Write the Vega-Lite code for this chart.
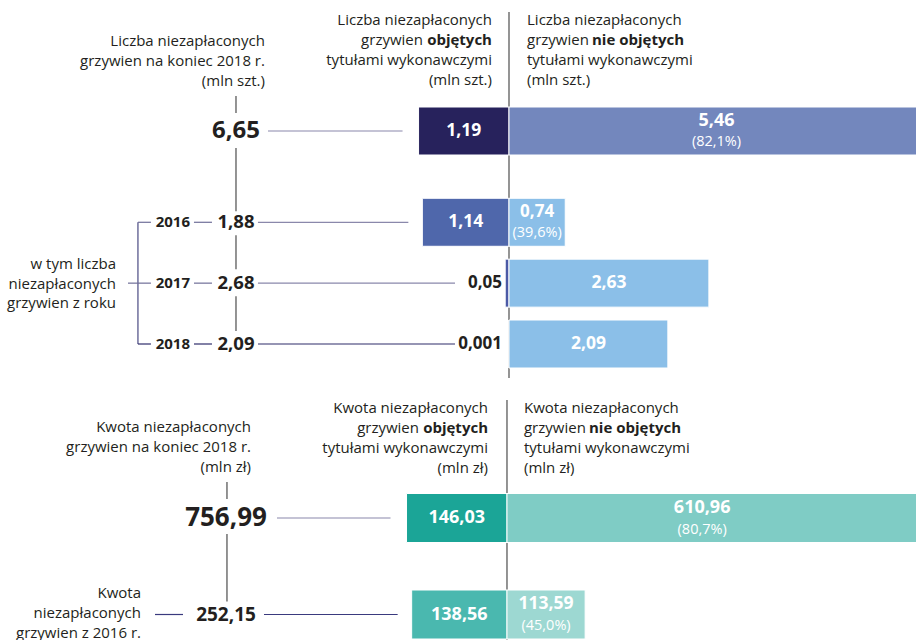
{
"$schema": "https://vega.github.io/schema/vega-lite/v6.json",
"padding": 0,
"spacing": 0,
"bounds": "flush",
"background": "white",
"config": {"view": {"stroke": null}, "locale": {"number": {"decimal": ",", "thousands": " ", "grouping": [3], "currency": ["", " zł"]}}},
"datasets": {
 "liczba": [
  {"row": "total", "total": 6.65, "obj": 1.19, "nie": 5.46, "pct": "(82,1%)"},
  {"row": "2016", "total": 1.88, "obj": 1.14, "nie": 0.74, "pct": "(39,6%)"},
  {"row": "2017", "total": 2.68, "obj": 0.05, "nie": 2.63},
  {"row": "2018", "total": 2.09, "obj": 0.001, "nie": 2.09}
 ],
 "kwota": [
  {"row": "total", "total": 756.99, "obj": 146.03, "nie": 610.96, "pct": "(80,7%)"},
  {"row": "2016", "total": 252.15, "obj": 138.56, "nie": 113.59, "pct": "(45,0%)"}
 ]
},
"vconcat": [
 {
  "width": 916, "height": 385,
  "data": {"name": "liczba"},
  "resolve": {"scale": {"x": "independent"}},
  "layer": [
   {"data": {"values": [{}]}, "mark": {"type": "rule", "color": "#4d4d4d", "strokeWidth": 1.2, "yOffset": -119, "y2Offset": 34},
    "encoding": {"x": {"datum": 0, "type": "quantitative", "scale": {"domain": [-6.697, 5.355], "nice": false, "zero": false}, "axis": null},
     "y": {"datum": "total", "type": "nominal", "scale": {"type": "point", "domain": ["total","_a","_b","2016","_c","2017","_d","2018"], "range": [131, 344], "padding": 0}, "axis": null},
     "y2": {"datum": "2018"}}},
   {"data": {"values": [{}]}, "mark": {"type": "text", "align": "right", "baseline": "middle", "font": "Open Sans", "fontSize": 15, "lineHeight": 20, "color": "#231f20", "dy": -90},
    "encoding": {"x": {"datum": -3.211, "type": "quantitative", "scale": {"domain": [-6.697, 5.355], "nice": false, "zero": false}, "axis": null},
     "y": {"datum": "total", "type": "nominal", "scale": {"type": "point", "domain": ["total","_a","_b","2016","_c","2017","_d","2018"], "range": [131, 344], "padding": 0}, "axis": null},
     "text": {"value": ["Liczba niezapłaconych", "grzywien na koniec 2018 r.", "(mln szt.)"]}}},
   {"data": {"values": [{}]}, "mark": {"type": "text", "align": "right", "baseline": "middle", "font": "Open Sans", "fontSize": 15, "color": "#231f20", "dy": -111},
    "encoding": {"x": {"datum": -0.224, "type": "quantitative", "scale": {"domain": [-6.697, 5.355], "nice": false, "zero": false}, "axis": null},
     "y": {"datum": "total", "type": "nominal", "scale": {"type": "point", "domain": ["total","_a","_b","2016","_c","2017","_d","2018"], "range": [131, 344], "padding": 0}, "axis": null},
     "text": {"value": "Liczba niezapłaconych"}}},
   {"data": {"values": [{}]}, "mark": {"type": "text", "align": "right", "baseline": "middle", "font": "Open Sans", "fontSize": 15, "lineHeight": 20, "color": "#231f20", "dy": -71},
    "encoding": {"x": {"datum": -0.224, "type": "quantitative", "scale": {"domain": [-6.697, 5.355], "nice": false, "zero": false}, "axis": null},
     "y": {"datum": "total", "type": "nominal", "scale": {"type": "point", "domain": ["total","_a","_b","2016","_c","2017","_d","2018"], "range": [131, 344], "padding": 0}, "axis": null},
     "text": {"value": ["tytułami wykonawczymi", "(mln szt.)"]}}},
   {"data": {"values": [{}]}, "mark": {"type": "text", "align": "right", "baseline": "middle", "font": "Open Sans", "fontSize": 15, "color": "#231f20", "dy": -91, "dx": -69},
    "encoding": {"x": {"datum": -0.224, "type": "quantitative", "scale": {"domain": [-6.697, 5.355], "nice": false, "zero": false}, "axis": null},
     "y": {"datum": "total", "type": "nominal", "scale": {"type": "point", "domain": ["total","_a","_b","2016","_c","2017","_d","2018"], "range": [131, 344], "padding": 0}, "axis": null},
     "text": {"value": "grzywien"}}},
   {"data": {"values": [{}]}, "mark": {"type": "text", "align": "right", "baseline": "middle", "font": "Open Sans", "fontSize": 15, "fontWeight": "bold", "color": "#231f20", "dy": -91},
    "encoding": {"x": {"datum": -0.224, "type": "quantitative", "scale": {"domain": [-6.697, 5.355], "nice": false, "zero": false}, "axis": null},
     "y": {"datum": "total", "type": "nominal", "scale": {"type": "point", "domain": ["total","_a","_b","2016","_c","2017","_d","2018"], "range": [131, 344], "padding": 0}, "axis": null},
     "text": {"value": "objętych"}}},
   {"data": {"values": [{}]}, "mark": {"type": "text", "align": "left", "baseline": "middle", "font": "Open Sans", "fontSize": 15, "color": "#231f20", "dy": -111},
    "encoding": {"x": {"datum": 0.237, "type": "quantitative", "scale": {"domain": [-6.697, 5.355], "nice": false, "zero": false}, "axis": null},
     "y": {"datum": "total", "type": "nominal", "scale": {"type": "point", "domain": ["total","_a","_b","2016","_c","2017","_d","2018"], "range": [131, 344], "padding": 0}, "axis": null},
     "text": {"value": "Liczba niezapłaconych"}}},
   {"data": {"values": [{}]}, "mark": {"type": "text", "align": "left", "baseline": "middle", "font": "Open Sans", "fontSize": 15, "lineHeight": 20, "color": "#231f20", "dy": -71},
    "encoding": {"x": {"datum": 0.237, "type": "quantitative", "scale": {"domain": [-6.697, 5.355], "nice": false, "zero": false}, "axis": null},
     "y": {"datum": "total", "type": "nominal", "scale": {"type": "point", "domain": ["total","_a","_b","2016","_c","2017","_d","2018"], "range": [131, 344], "padding": 0}, "axis": null},
     "text": {"value": ["tytułami wykonawczymi", "(mln szt.)"]}}},
   {"data": {"values": [{}]}, "mark": {"type": "text", "align": "left", "baseline": "middle", "font": "Open Sans", "fontSize": 15, "color": "#231f20", "dy": -91},
    "encoding": {"x": {"datum": 0.237, "type": "quantitative", "scale": {"domain": [-6.697, 5.355], "nice": false, "zero": false}, "axis": null},
     "y": {"datum": "total", "type": "nominal", "scale": {"type": "point", "domain": ["total","_a","_b","2016","_c","2017","_d","2018"], "range": [131, 344], "padding": 0}, "axis": null},
     "text": {"value": "grzywien"}}},
   {"data": {"values": [{}]}, "mark": {"type": "text", "align": "left", "baseline": "middle", "font": "Open Sans", "fontSize": 15, "fontWeight": "bold", "color": "#231f20", "dy": -91, "dx": 65},
    "encoding": {"x": {"datum": 0.237, "type": "quantitative", "scale": {"domain": [-6.697, 5.355], "nice": false, "zero": false}, "axis": null},
     "y": {"datum": "total", "type": "nominal", "scale": {"type": "point", "domain": ["total","_a","_b","2016","_c","2017","_d","2018"], "range": [131, 344], "padding": 0}, "axis": null},
     "text": {"value": "nie objętych"}}},
   {"data": {"values": [{}]}, "mark": {"type": "rule", "color": "#4d4d4d", "strokeWidth": 1.2, "yOffset": -35, "y2Offset": -18},
    "encoding": {"x": {"datum": -3.592, "type": "quantitative", "scale": {"domain": [-6.697, 5.355], "nice": false, "zero": false}, "axis": null},
     "y": {"datum": "total", "type": "nominal", "scale": {"type": "point", "domain": ["total","_a","_b","2016","_c","2017","_d","2018"], "range": [131, 344], "padding": 0}, "axis": null},
     "y2": {"datum": "total"}}},
   {"data": {"values": [{}]}, "mark": {"type": "rule", "color": "#4d4d4d", "strokeWidth": 1.2, "yOffset": 17, "y2Offset": -11},
    "encoding": {"x": {"datum": -3.592, "type": "quantitative", "scale": {"domain": [-6.697, 5.355], "nice": false, "zero": false}, "axis": null},
     "y": {"datum": "total", "type": "nominal", "scale": {"type": "point", "domain": ["total","_a","_b","2016","_c","2017","_d","2018"], "range": [131, 344], "padding": 0}, "axis": null},
     "y2": {"datum": "2016"}}},
   {"data": {"values": [{}]}, "mark": {"type": "rule", "color": "#4d4d4d", "strokeWidth": 1.2, "yOffset": 13, "y2Offset": -14},
    "encoding": {"x": {"datum": -3.592, "type": "quantitative", "scale": {"domain": [-6.697, 5.355], "nice": false, "zero": false}, "axis": null},
     "y": {"datum": "2016", "type": "nominal", "scale": {"type": "point", "domain": ["total","_a","_b","2016","_c","2017","_d","2018"], "range": [131, 344], "padding": 0}, "axis": null},
     "y2": {"datum": "2017"}}},
   {"data": {"values": [{}]}, "mark": {"type": "rule", "color": "#4d4d4d", "strokeWidth": 1.2, "yOffset": 13, "y2Offset": -13},
    "encoding": {"x": {"datum": -3.592, "type": "quantitative", "scale": {"domain": [-6.697, 5.355], "nice": false, "zero": false}, "axis": null},
     "y": {"datum": "2017", "type": "nominal", "scale": {"type": "point", "domain": ["total","_a","_b","2016","_c","2017","_d","2018"], "range": [131, 344], "padding": 0}, "axis": null},
     "y2": {"datum": "2018"}}},
   {"data": {"values": [{}]}, "mark": {"type": "rule", "color": "#4a4a82", "strokeWidth": 1.2},
    "encoding": {"x": {"datum": -4.882, "type": "quantitative", "scale": {"domain": [-6.697, 5.355], "nice": false, "zero": false}, "axis": null},
     "y": {"datum": "2016", "type": "nominal", "scale": {"type": "point", "domain": ["total","_a","_b","2016","_c","2017","_d","2018"], "range": [131, 344], "padding": 0}, "axis": null},
     "y2": {"datum": "2018"}}},
   {"data": {"values": [{}]}, "mark": {"type": "rule", "color": "#6f6e98", "strokeWidth": 1.2},
    "encoding": {"x": {"datum": -5.013, "type": "quantitative", "scale": {"domain": [-6.697, 5.355], "nice": false, "zero": false}, "axis": null},
     "x2": {"datum": -4.882},
     "y": {"datum": "2017", "type": "nominal", "scale": {"type": "point", "domain": ["total","_a","_b","2016","_c","2017","_d","2018"], "range": [131, 344], "padding": 0}, "axis": null}}},
   {"transform": [{"filter": "datum.row !== 'total'"}], "mark": {"type": "rule", "strokeWidth": 1.2},
    "encoding": {"x": {"datum": -4.882, "type": "quantitative", "scale": {"domain": [-6.697, 5.355], "nice": false, "zero": false}, "axis": null},
     "x2": {"datum": -4.711},
     "y": {"field": "row", "type": "nominal", "scale": {"type": "point", "domain": ["total","_a","_b","2016","_c","2017","_d","2018"], "range": [131, 344], "padding": 0}, "axis": null},
     "color": {"condition": {"test": "datum.row === '2018'", "value": "#2e2d6b"}, "value": "#6f6e98"}}},
   {"transform": [{"filter": "datum.row !== 'total'"}], "mark": {"type": "rule", "strokeWidth": 1.2},
    "encoding": {"x": {"datum": -4.145, "type": "quantitative", "scale": {"domain": [-6.697, 5.355], "nice": false, "zero": false}, "axis": null},
     "x2": {"datum": -3.908},
     "y": {"field": "row", "type": "nominal", "scale": {"type": "point", "domain": ["total","_a","_b","2016","_c","2017","_d","2018"], "range": [131, 344], "padding": 0}, "axis": null},
     "color": {"condition": {"test": "datum.row === '2018'", "value": "#2e2d6b"}, "value": "#6f6e98"}}},
   {"data": {"values": [{}]}, "mark": {"type": "text", "align": "right", "baseline": "middle", "font": "Open Sans", "fontSize": 15, "lineHeight": 19.5, "color": "#231f20", "dy": -19},
    "encoding": {"x": {"datum": -5.171, "type": "quantitative", "scale": {"domain": [-6.697, 5.355], "nice": false, "zero": false}, "axis": null},
     "y": {"datum": "2017", "type": "nominal", "scale": {"type": "point", "domain": ["total","_a","_b","2016","_c","2017","_d","2018"], "range": [131, 344], "padding": 0}, "axis": null},
     "text": {"value": ["w tym liczba", "niezapłaconych", "grzywien z roku"]}}},
   {"transform": [{"filter": "datum.row !== 'total'"}], "mark": {"type": "text", "align": "right", "baseline": "middle", "font": "Open Sans", "fontSize": 15, "fontWeight": "bold", "color": "#231f20"},
    "encoding": {"x": {"datum": -4.197, "type": "quantitative", "scale": {"domain": [-6.697, 5.355], "nice": false, "zero": false}, "axis": null},
     "y": {"field": "row", "type": "nominal", "scale": {"type": "point", "domain": ["total","_a","_b","2016","_c","2017","_d","2018"], "range": [131, 344], "padding": 0}, "axis": null},
     "text": {"field": "row", "type": "nominal"}}},
   {"mark": {"type": "text", "align": "center", "baseline": "middle", "font": "Open Sans", "fontWeight": "bold", "color": "#231f20"},
    "encoding": {"x": {"datum": -3.592, "type": "quantitative", "scale": {"domain": [-6.697, 5.355], "nice": false, "zero": false}, "axis": null},
     "y": {"field": "row", "type": "nominal", "scale": {"type": "point", "domain": ["total","_a","_b","2016","_c","2017","_d","2018"], "range": [131, 344], "padding": 0}, "axis": null},
     "text": {"field": "total", "type": "quantitative", "format": "~g"},
     "size": {"condition": {"test": "datum.row === 'total'", "value": 24}, "value": 18.5}}},
   {"transform": [{"filter": "datum.row === 'total'"}], "mark": {"type": "rule", "color": "#8a88ab", "strokeWidth": 1.2, "xOffset": -16},
    "encoding": {"x": {"field": "obj", "type": "quantitative", "scale": {"domain": [-5.355, 6.697], "reverse": true, "nice": false, "zero": false}, "axis": null},
     "x2": {"datum": 3.171},
     "y": {"field": "row", "type": "nominal", "scale": {"type": "point", "domain": ["total","_a","_b","2016","_c","2017","_d","2018"], "range": [131, 344], "padding": 0}, "axis": null}}},
   {"transform": [{"filter": "datum.row === '2016'"}], "mark": {"type": "rule", "color": "#8a88ab", "strokeWidth": 1.2, "xOffset": -14},
    "encoding": {"x": {"field": "obj", "type": "quantitative", "scale": {"domain": [-5.355, 6.697], "reverse": true, "nice": false, "zero": false}, "axis": null},
     "x2": {"datum": 3.303},
     "y": {"field": "row", "type": "nominal", "scale": {"type": "point", "domain": ["total","_a","_b","2016","_c","2017","_d","2018"], "range": [131, 344], "padding": 0}, "axis": null}}},
   {"transform": [{"filter": "datum.row === '2017' || datum.row === '2018'"}], "mark": {"type": "rule", "strokeWidth": 1.2, "xOffset": -54},
    "encoding": {"x": {"datum": 0, "type": "quantitative", "scale": {"domain": [-5.355, 6.697], "reverse": true, "nice": false, "zero": false}, "axis": null},
     "x2": {"datum": 3.303},
     "y": {"field": "row", "type": "nominal", "scale": {"type": "point", "domain": ["total","_a","_b","2016","_c","2017","_d","2018"], "range": [131, 344], "padding": 0}, "axis": null},
     "color": {"condition": {"test": "datum.row === '2018'", "value": "#2e2d6b"}, "value": "#8a88ab"}}},
   {"mark": {"type": "bar", "size": 48, "stroke": "white", "strokeWidth": 1},
    "encoding": {"x": {"field": "obj", "type": "quantitative", "scale": {"domain": [-5.355, 6.697], "reverse": true, "nice": false, "zero": false}, "axis": null},
     "x2": {"datum": 0},
     "y": {"field": "row", "type": "nominal", "scale": {"type": "point", "domain": ["total","_a","_b","2016","_c","2017","_d","2018"], "range": [131, 344], "padding": 0}, "axis": null},
     "color": {"condition": [{"test": "datum.row === 'total'", "value": "#27225c"}, {"test": "datum.row === '2016'", "value": "#4f67ab"}], "value": "#4b5aa6"}}},
   {"mark": {"type": "bar", "size": 48, "stroke": "white", "strokeWidth": 1, "clip": true},
    "encoding": {"x": {"field": "nie", "type": "quantitative", "scale": {"domain": [-6.697, 5.355], "nice": false, "zero": false}, "axis": null},
     "x2": {"datum": 0},
     "y": {"field": "row", "type": "nominal", "scale": {"type": "point", "domain": ["total","_a","_b","2016","_c","2017","_d","2018"], "range": [131, 344], "padding": 0}, "axis": null},
     "color": {"condition": {"test": "datum.row === 'total'", "value": "#7387bd"}, "value": "#8bbfe8"}}},
   {"transform": [{"filter": "datum.row === 'total' || datum.row === '2016'"}], "mark": {"type": "text", "align": "center", "baseline": "middle", "font": "Open Sans", "fontSize": 17.5, "fontWeight": "bold", "color": "white"},
    "encoding": {"x": {"field": "obj", "type": "quantitative", "scale": {"domain": [-10.71, 13.394], "reverse": true, "nice": false, "zero": false}, "axis": null},
     "y": {"field": "row", "type": "nominal", "scale": {"type": "point", "domain": ["total","_a","_b","2016","_c","2017","_d","2018"], "range": [131, 344], "padding": 0}, "axis": null},
     "text": {"field": "obj", "type": "quantitative", "format": "~g"}}},
   {"transform": [{"filter": "datum.row === '2017' || datum.row === '2018'"}], "mark": {"type": "text", "align": "right", "baseline": "middle", "font": "Open Sans", "fontSize": 17, "fontWeight": "bold", "color": "#231f20", "dx": -7},
    "encoding": {"x": {"datum": 0, "type": "quantitative", "scale": {"domain": [-6.697, 5.355], "nice": false, "zero": false}, "axis": null},
     "y": {"field": "row", "type": "nominal", "scale": {"type": "point", "domain": ["total","_a","_b","2016","_c","2017","_d","2018"], "range": [131, 344], "padding": 0}, "axis": null},
     "text": {"field": "obj", "type": "quantitative", "format": "~g"}}},
   {"transform": [{"filter": "datum.pct != null"}], "mark": {"type": "text", "align": "center", "baseline": "middle", "font": "Open Sans", "fontWeight": "bold", "color": "white", "dy": -10},
    "encoding": {"x": {"field": "nie", "type": "quantitative", "scale": {"domain": [-13.394, 10.71], "nice": false, "zero": false}, "axis": null},
     "y": {"field": "row", "type": "nominal", "scale": {"type": "point", "domain": ["total","_a","_b","2016","_c","2017","_d","2018"], "range": [131, 344], "padding": 0}, "axis": null},
     "text": {"field": "nie", "type": "quantitative", "format": "~g"},
     "size": {"condition": {"test": "datum.row === 'total'", "value": 18}, "value": 17}}},
   {"transform": [{"filter": "datum.pct != null"}], "mark": {"type": "text", "align": "center", "baseline": "middle", "font": "Open Sans", "fontSize": 14.5, "color": "white", "dy": 11},
    "encoding": {"x": {"field": "nie", "type": "quantitative", "scale": {"domain": [-13.394, 10.71], "nice": false, "zero": false}, "axis": null},
     "y": {"field": "row", "type": "nominal", "scale": {"type": "point", "domain": ["total","_a","_b","2016","_c","2017","_d","2018"], "range": [131, 344], "padding": 0}, "axis": null},
     "text": {"field": "pct", "type": "nominal"}}},
   {"transform": [{"filter": "datum.pct == null"}], "mark": {"type": "text", "align": "center", "baseline": "middle", "font": "Open Sans", "fontSize": 17.5, "fontWeight": "bold", "color": "white"},
    "encoding": {"x": {"field": "nie", "type": "quantitative", "scale": {"domain": [-13.394, 10.71], "nice": false, "zero": false}, "axis": null},
     "y": {"field": "row", "type": "nominal", "scale": {"type": "point", "domain": ["total","_a","_b","2016","_c","2017","_d","2018"], "range": [131, 344], "padding": 0}, "axis": null},
     "text": {"field": "nie", "type": "quantitative", "format": "~g"}}}
  ]
 },
 {
  "width": 916, "height": 255,
  "data": {"name": "kwota"},
  "resolve": {"scale": {"x": "independent"}},
  "layer": [
   {"data": {"values": [{}]}, "mark": {"type": "rule", "color": "#4d4d4d", "strokeWidth": 1.2, "yOffset": -118, "y2Offset": 30},
    "encoding": {"x": {"datum": 0, "type": "quantitative", "scale": {"domain": [-736.9, 594.5], "nice": false, "zero": false}, "axis": null},
     "y": {"datum": "total", "type": "nominal", "scale": {"type": "point", "domain": ["total", "2016"], "range": [133, 229.5], "padding": 0}, "axis": null},
     "y2": {"datum": "2016"}}},
   {"data": {"values": [{}]}, "mark": {"type": "text", "align": "right", "baseline": "middle", "font": "Open Sans", "fontSize": 15, "lineHeight": 20, "color": "#231f20", "dy": -91},
    "encoding": {"x": {"datum": -372.1, "type": "quantitative", "scale": {"domain": [-736.9, 594.5], "nice": false, "zero": false}, "axis": null},
     "y": {"datum": "total", "type": "nominal", "scale": {"type": "point", "domain": ["total", "2016"], "range": [133, 229.5], "padding": 0}, "axis": null},
     "text": {"value": ["Kwota niezapłaconych", "grzywien na koniec 2018 r.", "(mln zł)"]}}},
   {"data": {"values": [{}]}, "mark": {"type": "text", "align": "right", "baseline": "middle", "font": "Open Sans", "fontSize": 15, "color": "#231f20", "dy": -110},
    "encoding": {"x": {"datum": -27.6, "type": "quantitative", "scale": {"domain": [-736.9, 594.5], "nice": false, "zero": false}, "axis": null},
     "y": {"datum": "total", "type": "nominal", "scale": {"type": "point", "domain": ["total", "2016"], "range": [133, 229.5], "padding": 0}, "axis": null},
     "text": {"value": "Kwota niezapłaconych"}}},
   {"data": {"values": [{}]}, "mark": {"type": "text", "align": "right", "baseline": "middle", "font": "Open Sans", "fontSize": 15, "lineHeight": 20, "color": "#231f20", "dy": -70},
    "encoding": {"x": {"datum": -27.6, "type": "quantitative", "scale": {"domain": [-736.9, 594.5], "nice": false, "zero": false}, "axis": null},
     "y": {"datum": "total", "type": "nominal", "scale": {"type": "point", "domain": ["total", "2016"], "range": [133, 229.5], "padding": 0}, "axis": null},
     "text": {"value": ["tytułami wykonawczymi", "(mln zł)"]}}},
   {"data": {"values": [{}]}, "mark": {"type": "text", "align": "right", "baseline": "middle", "font": "Open Sans", "fontSize": 15, "color": "#231f20", "dy": -90, "dx": -69},
    "encoding": {"x": {"datum": -27.6, "type": "quantitative", "scale": {"domain": [-736.9, 594.5], "nice": false, "zero": false}, "axis": null},
     "y": {"datum": "total", "type": "nominal", "scale": {"type": "point", "domain": ["total", "2016"], "range": [133, 229.5], "padding": 0}, "axis": null},
     "text": {"value": "grzywien"}}},
   {"data": {"values": [{}]}, "mark": {"type": "text", "align": "right", "baseline": "middle", "font": "Open Sans", "fontSize": 15, "fontWeight": "bold", "color": "#231f20", "dy": -90},
    "encoding": {"x": {"datum": -27.6, "type": "quantitative", "scale": {"domain": [-736.9, 594.5], "nice": false, "zero": false}, "axis": null},
     "y": {"datum": "total", "type": "nominal", "scale": {"type": "point", "domain": ["total", "2016"], "range": [133, 229.5], "padding": 0}, "axis": null},
     "text": {"value": "objętych"}}},
   {"data": {"values": [{}]}, "mark": {"type": "text", "align": "left", "baseline": "middle", "font": "Open Sans", "fontSize": 15, "color": "#231f20", "dy": -110},
    "encoding": {"x": {"datum": 24.7, "type": "quantitative", "scale": {"domain": [-736.9, 594.5], "nice": false, "zero": false}, "axis": null},
     "y": {"datum": "total", "type": "nominal", "scale": {"type": "point", "domain": ["total", "2016"], "range": [133, 229.5], "padding": 0}, "axis": null},
     "text": {"value": "Kwota niezapłaconych"}}},
   {"data": {"values": [{}]}, "mark": {"type": "text", "align": "left", "baseline": "middle", "font": "Open Sans", "fontSize": 15, "lineHeight": 20, "color": "#231f20", "dy": -70},
    "encoding": {"x": {"datum": 24.7, "type": "quantitative", "scale": {"domain": [-736.9, 594.5], "nice": false, "zero": false}, "axis": null},
     "y": {"datum": "total", "type": "nominal", "scale": {"type": "point", "domain": ["total", "2016"], "range": [133, 229.5], "padding": 0}, "axis": null},
     "text": {"value": ["tytułami wykonawczymi", "(mln zł)"]}}},
   {"data": {"values": [{}]}, "mark": {"type": "text", "align": "left", "baseline": "middle", "font": "Open Sans", "fontSize": 15, "color": "#231f20", "dy": -90},
    "encoding": {"x": {"datum": 24.7, "type": "quantitative", "scale": {"domain": [-736.9, 594.5], "nice": false, "zero": false}, "axis": null},
     "y": {"datum": "total", "type": "nominal", "scale": {"type": "point", "domain": ["total", "2016"], "range": [133, 229.5], "padding": 0}, "axis": null},
     "text": {"value": "grzywien"}}},
   {"data": {"values": [{}]}, "mark": {"type": "text", "align": "left", "baseline": "middle", "font": "Open Sans", "fontSize": 15, "fontWeight": "bold", "color": "#231f20", "dy": -90, "dx": 65},
    "encoding": {"x": {"datum": 24.7, "type": "quantitative", "scale": {"domain": [-736.9, 594.5], "nice": false, "zero": false}, "axis": null},
     "y": {"datum": "total", "type": "nominal", "scale": {"type": "point", "domain": ["total", "2016"], "range": [133, 229.5], "padding": 0}, "axis": null},
     "text": {"value": "nie objętych"}}},
   {"data": {"values": [{}]}, "mark": {"type": "rule", "color": "#4d4d4d", "strokeWidth": 1.2, "yOffset": -36, "y2Offset": -19},
    "encoding": {"x": {"datum": -407, "type": "quantitative", "scale": {"domain": [-736.9, 594.5], "nice": false, "zero": false}, "axis": null},
     "y": {"datum": "total", "type": "nominal", "scale": {"type": "point", "domain": ["total", "2016"], "range": [133, 229.5], "padding": 0}, "axis": null},
     "y2": {"datum": "total"}}},
   {"data": {"values": [{}]}, "mark": {"type": "rule", "color": "#4d4d4d", "strokeWidth": 1.2, "yOffset": 16, "y2Offset": -13},
    "encoding": {"x": {"datum": -407, "type": "quantitative", "scale": {"domain": [-736.9, 594.5], "nice": false, "zero": false}, "axis": null},
     "y": {"datum": "total", "type": "nominal", "scale": {"type": "point", "domain": ["total", "2016"], "range": [133, 229.5], "padding": 0}, "axis": null},
     "y2": {"datum": "2016"}}},
   {"data": {"values": [{}]}, "mark": {"type": "rule", "color": "#3a3a7e", "strokeWidth": 1.2},
    "encoding": {"x": {"datum": -511.6, "type": "quantitative", "scale": {"domain": [-736.9, 594.5], "nice": false, "zero": false}, "axis": null},
     "x2": {"datum": -470.9},
     "y": {"datum": "2016", "type": "nominal", "scale": {"type": "point", "domain": ["total", "2016"], "range": [133, 229.5], "padding": 0}, "axis": null}}},
   {"data": {"values": [{}]}, "mark": {"type": "text", "align": "right", "baseline": "middle", "font": "Open Sans", "fontSize": 15, "lineHeight": 20, "color": "#231f20", "dy": -21.5},
    "encoding": {"x": {"datum": -532, "type": "quantitative", "scale": {"domain": [-736.9, 594.5], "nice": false, "zero": false}, "axis": null},
     "y": {"datum": "2016", "type": "nominal", "scale": {"type": "point", "domain": ["total", "2016"], "range": [133, 229.5], "padding": 0}, "axis": null},
     "text": {"value": ["Kwota", "niezapłaconych", "grzywien z 2016 r."]}}},
   {"mark": {"type": "text", "align": "center", "baseline": "middle", "font": "Open Sans", "fontWeight": "bold", "color": "#231f20"},
    "encoding": {"x": {"datum": -408.4, "type": "quantitative", "scale": {"domain": [-736.9, 594.5], "nice": false, "zero": false}, "axis": null},
     "y": {"field": "row", "type": "nominal", "scale": {"type": "point", "domain": ["total", "2016"], "range": [133, 229.5], "padding": 0}, "axis": null},
     "text": {"field": "total", "type": "quantitative", "format": "~g"},
     "size": {"condition": {"test": "datum.row === 'total'", "value": 26}, "value": 19}}},
   {"transform": [{"filter": "datum.row === 'total'"}], "mark": {"type": "rule", "color": "#8a88ab", "strokeWidth": 1.2, "xOffset": -16},
    "encoding": {"x": {"field": "obj", "type": "quantitative", "scale": {"domain": [-594.5, 736.9], "reverse": true, "nice": false, "zero": false}, "axis": null},
     "x2": {"datum": 334.3},
     "y": {"field": "row", "type": "nominal", "scale": {"type": "point", "domain": ["total", "2016"], "range": [133, 229.5], "padding": 0}, "axis": null}}},
   {"transform": [{"filter": "datum.row === '2016'"}], "mark": {"type": "rule", "color": "#3a3a7e", "strokeWidth": 1.2, "xOffset": -14},
    "encoding": {"x": {"field": "obj", "type": "quantitative", "scale": {"domain": [-594.5, 736.9], "reverse": true, "nice": false, "zero": false}, "axis": null},
     "x2": {"datum": 353.2},
     "y": {"field": "row", "type": "nominal", "scale": {"type": "point", "domain": ["total", "2016"], "range": [133, 229.5], "padding": 0}, "axis": null}}},
   {"mark": {"type": "bar", "size": 49, "stroke": "white", "strokeWidth": 1},
    "encoding": {"x": {"field": "obj", "type": "quantitative", "scale": {"domain": [-594.5, 736.9], "reverse": true, "nice": false, "zero": false}, "axis": null},
     "x2": {"datum": 0},
     "y": {"field": "row", "type": "nominal", "scale": {"type": "point", "domain": ["total", "2016"], "range": [133, 229.5], "padding": 0}, "axis": null},
     "color": {"condition": {"test": "datum.row === 'total'", "value": "#1ba597"}, "value": "#4ab8af"}}},
   {"mark": {"type": "bar", "size": 49, "stroke": "white", "strokeWidth": 1, "clip": true},
    "encoding": {"x": {"field": "nie", "type": "quantitative", "scale": {"domain": [-736.9, 594.5], "nice": false, "zero": false}, "axis": null},
     "x2": {"datum": 0},
     "y": {"field": "row", "type": "nominal", "scale": {"type": "point", "domain": ["total", "2016"], "range": [133, 229.5], "padding": 0}, "axis": null},
     "color": {"condition": {"test": "datum.row === 'total'", "value": "#7fccc5"}, "value": "#9dd8d2"}}},
   {"mark": {"type": "text", "align": "center", "baseline": "middle", "font": "Open Sans", "fontSize": 18, "fontWeight": "bold", "color": "white"},
    "encoding": {"x": {"field": "obj", "type": "quantitative", "scale": {"domain": [-1189, 1473.8], "reverse": true, "nice": false, "zero": false}, "axis": null},
     "y": {"field": "row", "type": "nominal", "scale": {"type": "point", "domain": ["total", "2016"], "range": [133, 229.5], "padding": 0}, "axis": null},
     "text": {"field": "obj", "type": "quantitative", "format": "~g"}}},
   {"transform": [{"filter": "datum.row === 'total'"}], "mark": {"type": "text", "align": "center", "baseline": "middle", "font": "Open Sans", "fontSize": 18, "fontWeight": "bold", "color": "white", "dy": -10, "dx": -15},
    "encoding": {"x": {"field": "nie", "type": "quantitative", "scale": {"domain": [-1473.8, 1189], "nice": false, "zero": false}, "axis": null},
     "y": {"field": "row", "type": "nominal", "scale": {"type": "point", "domain": ["total", "2016"], "range": [133, 229.5], "padding": 0}, "axis": null},
     "text": {"field": "nie", "type": "quantitative", "format": "~g"}}},
   {"transform": [{"filter": "datum.row === 'total'"}], "mark": {"type": "text", "align": "center", "baseline": "middle", "font": "Open Sans", "fontSize": 14.5, "color": "white", "dy": 12, "dx": -15},
    "encoding": {"x": {"field": "nie", "type": "quantitative", "scale": {"domain": [-1473.8, 1189], "nice": false, "zero": false}, "axis": null},
     "y": {"field": "row", "type": "nominal", "scale": {"type": "point", "domain": ["total", "2016"], "range": [133, 229.5], "padding": 0}, "axis": null},
     "text": {"field": "pct", "type": "nominal"}}},
   {"transform": [{"filter": "datum.row === '2016'"}], "mark": {"type": "text", "align": "center", "baseline": "middle", "font": "Open Sans", "fontSize": 17.5, "fontWeight": "bold", "color": "white", "dy": -11},
    "encoding": {"x": {"field": "nie", "type": "quantitative", "scale": {"domain": [-1473.8, 1189], "nice": false, "zero": false}, "axis": null},
     "y": {"field": "row", "type": "nominal", "scale": {"type": "point", "domain": ["total", "2016"], "range": [133, 229.5], "padding": 0}, "axis": null},
     "text": {"field": "nie", "type": "quantitative", "format": "~g"}}},
   {"transform": [{"filter": "datum.row === '2016'"}], "mark": {"type": "text", "align": "center", "baseline": "middle", "font": "Open Sans", "fontSize": 14.5, "color": "white", "dy": 11},
    "encoding": {"x": {"field": "nie", "type": "quantitative", "scale": {"domain": [-1473.8, 1189], "nice": false, "zero": false}, "axis": null},
     "y": {"field": "row", "type": "nominal", "scale": {"type": "point", "domain": ["total", "2016"], "range": [133, 229.5], "padding": 0}, "axis": null},
     "text": {"field": "pct", "type": "nominal"}}}
  ]
 }
]
}
